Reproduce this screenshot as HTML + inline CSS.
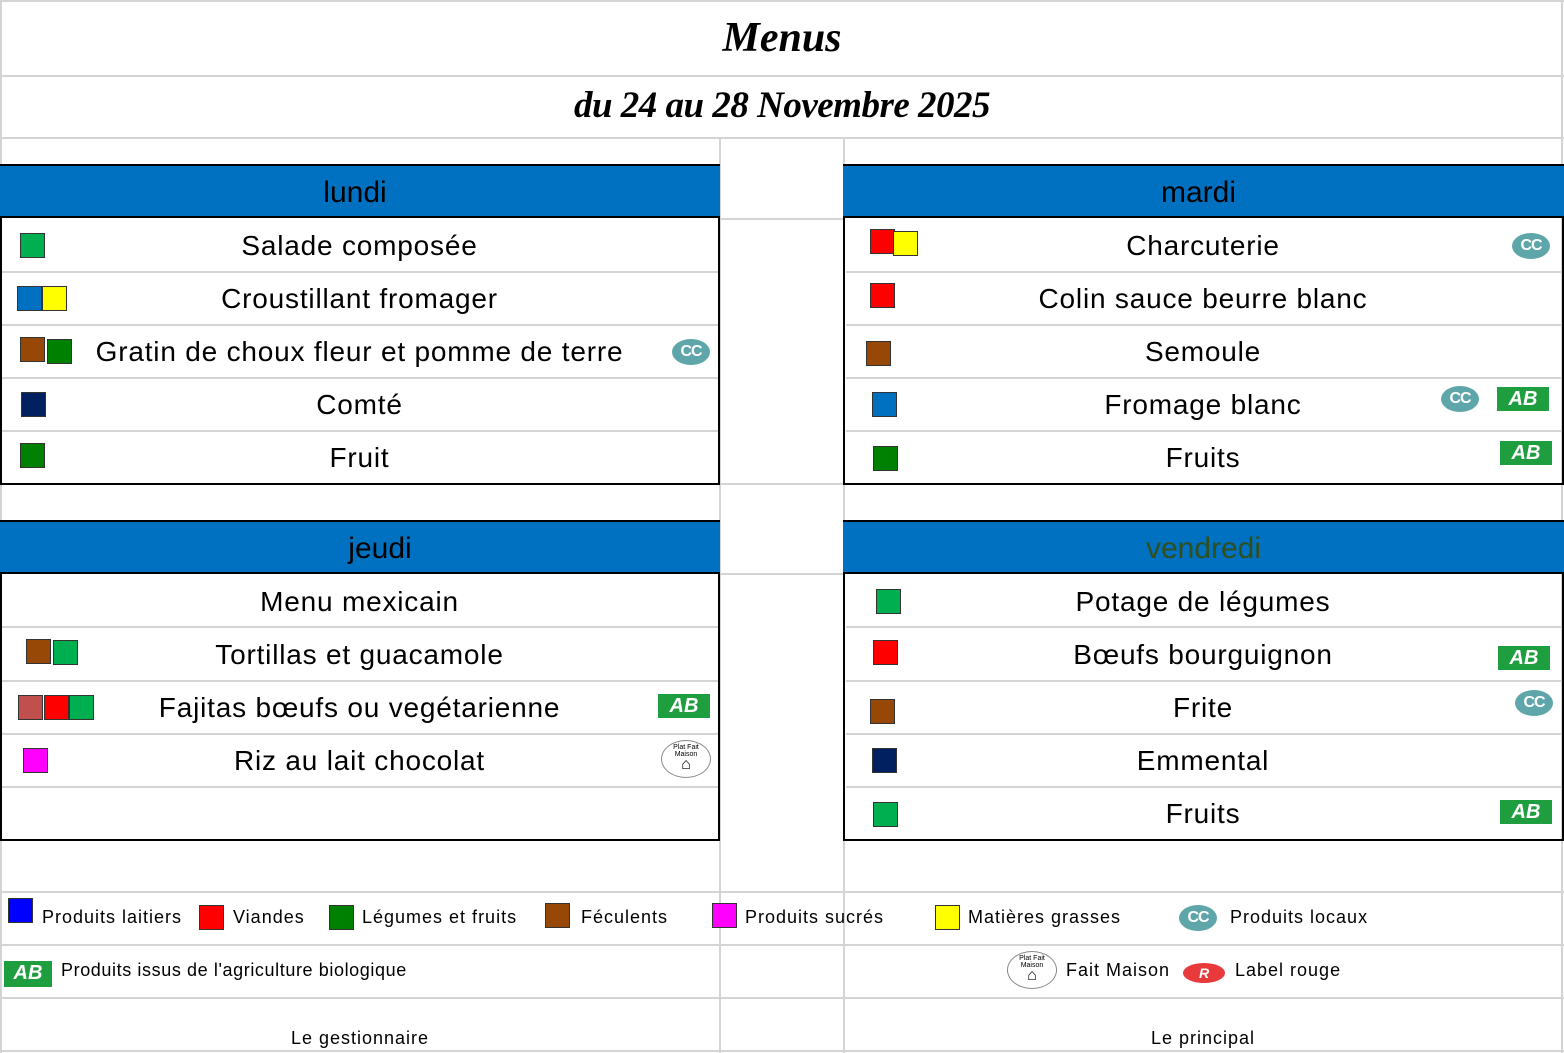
<!DOCTYPE html>
<html><head><meta charset="utf-8"><style>
*{margin:0;padding:0;box-sizing:border-box}
body{width:1564px;height:1053px;background:#fff;position:relative;overflow:hidden;font-family:"Liberation Sans",Arial,sans-serif;color:#000}
.a{position:absolute}
.h{position:absolute;height:2px;background:#d4d4d4}
.v{position:absolute;width:2px;background:#d4d4d4}
.t{position:absolute;height:53px;line-height:53px;text-align:center;font-size:28px;letter-spacing:0.8px;white-space:nowrap}
.hd{position:absolute;height:54px;background:#0070C0;line-height:54px;text-align:center;font-size:30px;border-top:2px solid #000;border-bottom:2px solid #000}
.box{position:absolute;border:2px solid #000}
.s{position:absolute;width:25px;height:25px;border:1.5px solid #333}
.cc{position:absolute;width:38px;height:26px;border-radius:50%;background:#5fa6aa;color:#fff;font-weight:bold;font-size:16px;text-align:center;line-height:26px;letter-spacing:-1px}
.ab{position:absolute;width:52px;height:24px;background:#1f9e3f;color:#fff;font-weight:bold;font-style:italic;font-size:20px;text-align:center;line-height:25px}
.lg{position:absolute;font-size:18px;line-height:22px;white-space:nowrap;letter-spacing:1px}
.fm{position:absolute;width:50px;height:38px;border-radius:50%;border:1px solid #888;background:#fff;font-size:7px;text-align:center}
.scr{font-family:"Liberation Serif",serif;font-style:italic;font-weight:bold;position:absolute;left:0;width:1564px;text-align:center}
</style></head><body>
<div class="h" style="left:0;top:0;width:1564px"></div>
<div class="h" style="left:0;top:75px;width:1564px"></div>
<div class="h" style="left:0;top:137px;width:1564px"></div>
<div class="h" style="left:0;top:1050px;width:1564px"></div>
<div class="v" style="left:0;top:0;height:1053px"></div>
<div class="v" style="left:1561px;top:0;height:1053px"></div>
<div class="v" style="left:719px;top:137px;height:916px"></div>
<div class="v" style="left:843px;top:137px;height:916px"></div>
<div class="h" style="left:720px;top:218px;width:124px"></div>
<div class="h" style="left:720px;top:483px;width:124px"></div>
<div class="h" style="left:720px;top:573px;width:124px"></div>
<div class="h" style="left:0;top:891px;width:1564px"></div>
<div class="h" style="left:0;top:944px;width:1564px"></div>
<div class="h" style="left:0;top:997px;width:1564px"></div>
<div class="h" style="left:2px;top:271px;width:716px"></div><div class="h" style="left:2px;top:324px;width:716px"></div><div class="h" style="left:2px;top:377px;width:716px"></div><div class="h" style="left:2px;top:430px;width:716px"></div>
<div class="h" style="left:846px;top:271px;width:716px"></div><div class="h" style="left:846px;top:324px;width:716px"></div><div class="h" style="left:846px;top:377px;width:716px"></div><div class="h" style="left:846px;top:430px;width:716px"></div>
<div class="h" style="left:2px;top:626px;width:716px"></div><div class="h" style="left:2px;top:680px;width:716px"></div><div class="h" style="left:2px;top:733px;width:716px"></div><div class="h" style="left:2px;top:786px;width:716px"></div>
<div class="h" style="left:846px;top:626px;width:716px"></div><div class="h" style="left:846px;top:680px;width:716px"></div><div class="h" style="left:846px;top:733px;width:716px"></div><div class="h" style="left:846px;top:786px;width:716px"></div>

<div class="scr" style="top:14px;font-size:42px">Menus</div>
<div class="scr" style="top:84px;font-size:37px;letter-spacing:-0.5px">du 24 au 28 Novembre 2025</div>

<div class="box" style="left:0;top:164px;width:720px;height:321px"></div>
<div class="box" style="left:843px;top:164px;width:721px;height:321px"></div>
<div class="box" style="left:0;top:520px;width:720px;height:321px"></div>
<div class="box" style="left:843px;top:520px;width:721px;height:321px"></div>
<div class="hd" style="left:0;top:164px;width:720px;padding-right:10px">lundi</div>
<div class="hd" style="left:843px;top:164px;width:721px;padding-right:10px">mardi</div>
<div class="hd" style="left:0;top:520px;width:720px;padding-left:40px">jeudi</div>
<div class="hd" style="left:843px;top:520px;width:721px;color:#2f4f1f">vendredi</div>

<div class="t" style="left:0;width:719px;top:219px">Salade composée</div>
<div class="t" style="left:0;width:719px;top:272px">Croustillant fromager</div>
<div class="t" style="left:0;width:719px;top:325px">Gratin de choux fleur et pomme de terre</div>
<div class="t" style="left:0;width:719px;top:378px">Comté</div>
<div class="t" style="left:0;width:719px;top:431px">Fruit</div>
<div class="s" style="left:20px;top:233px;background:#00B050"></div>
<div class="s" style="left:17px;top:286px;background:#0070C0"></div><div class="s" style="left:42px;top:286px;background:#FFFF00"></div>
<div class="s" style="left:20px;top:337px;background:#974706"></div><div class="s" style="left:47px;top:339px;background:#008000"></div>
<div class="s" style="left:21px;top:392px;background:#002060"></div>
<div class="s" style="left:20px;top:443px;background:#008000"></div>
<div class="cc" style="left:672px;top:339px">CC</div>

<div class="t" style="left:844px;width:718px;top:219px">Charcuterie</div>
<div class="t" style="left:844px;width:718px;top:272px">Colin sauce beurre blanc</div>
<div class="t" style="left:844px;width:718px;top:325px">Semoule</div>
<div class="t" style="left:844px;width:718px;top:378px">Fromage blanc</div>
<div class="t" style="left:844px;width:718px;top:431px">Fruits</div>
<div class="s" style="left:870px;top:229px;background:#FF0000"></div><div class="s" style="left:893px;top:231px;background:#FFFF00"></div>
<div class="s" style="left:870px;top:283px;background:#FF0000"></div>
<div class="s" style="left:866px;top:341px;background:#974706"></div>
<div class="s" style="left:872px;top:392px;background:#0070C0"></div>
<div class="s" style="left:873px;top:446px;background:#008000"></div>
<div class="cc" style="left:1512px;top:233px">CC</div>
<div class="cc" style="left:1441px;top:386px">CC</div>
<div class="ab" style="left:1497px;top:387px">AB</div>
<div class="ab" style="left:1500px;top:441px">AB</div>

<div class="t" style="left:0;width:719px;top:575px">Menu mexicain</div>
<div class="t" style="left:0;width:719px;top:628px">Tortillas et guacamole</div>
<div class="t" style="left:0;width:719px;top:681px">Fajitas bœufs ou vegétarienne</div>
<div class="t" style="left:0;width:719px;top:734px">Riz au lait chocolat</div>
<div class="s" style="left:26px;top:639px;background:#974706"></div><div class="s" style="left:53px;top:640px;background:#00B050"></div>
<div class="s" style="left:18px;top:695px;background:#C0504D"></div><div class="s" style="left:44px;top:695px;background:#FF0000"></div><div class="s" style="left:69px;top:695px;background:#00B050"></div>
<div class="s" style="left:23px;top:748px;background:#FF00FF"></div>
<div class="ab" style="left:658px;top:694px">AB</div>
<div class="fm" style="left:661px;top:740px"><div style="margin-top:3px">Plat Fait Maison</div><div style="font-size:16px;line-height:14px">⌂</div></div>

<div class="t" style="left:844px;width:718px;top:575px">Potage de légumes</div>
<div class="t" style="left:844px;width:718px;top:628px">Bœufs bourguignon</div>
<div class="t" style="left:844px;width:718px;top:681px">Frite</div>
<div class="t" style="left:844px;width:718px;top:734px">Emmental</div>
<div class="t" style="left:844px;width:718px;top:787px">Fruits</div>
<div class="s" style="left:876px;top:589px;background:#00B050"></div>
<div class="s" style="left:873px;top:640px;background:#FF0000"></div>
<div class="s" style="left:870px;top:699px;background:#974706"></div>
<div class="s" style="left:872px;top:748px;background:#002060"></div>
<div class="s" style="left:873px;top:802px;background:#00B050"></div>
<div class="ab" style="left:1498px;top:646px">AB</div>
<div class="cc" style="left:1515px;top:690px">CC</div>
<div class="ab" style="left:1500px;top:800px">AB</div>

<div class="s" style="left:8px;top:898px;background:#0000FF"></div><div class="lg" style="left:42px;top:906px">Produits laitiers</div>
<div class="s" style="left:199px;top:905px;background:#FF0000"></div><div class="lg" style="left:233px;top:906px">Viandes</div>
<div class="s" style="left:329px;top:905px;background:#008000"></div><div class="lg" style="left:362px;top:906px">Légumes et fruits</div>
<div class="s" style="left:545px;top:903px;background:#974706"></div><div class="lg" style="left:581px;top:906px">Féculents</div>
<div class="s" style="left:712px;top:903px;background:#FF00FF"></div><div class="lg" style="left:745px;top:906px">Produits sucrés</div>
<div class="s" style="left:935px;top:905px;background:#FFFF00"></div><div class="lg" style="left:968px;top:906px">Matières grasses</div>
<div class="cc" style="left:1179px;top:905px">CC</div><div class="lg" style="left:1230px;top:906px">Produits locaux</div>
<div class="ab" style="left:4px;top:961px;width:48px;height:26px">AB</div><div class="lg" style="left:61px;top:959px;letter-spacing:0.6px">Produits issus de l'agriculture biologique</div>
<div class="fm" style="left:1007px;top:951px"><div style="margin-top:3px">Plat Fait Maison</div><div style="font-size:16px;line-height:14px">⌂</div></div>
<div class="lg" style="left:1066px;top:959px">Fait Maison</div>
<div class="a" style="left:1183px;top:963px;width:42px;height:20px;border-radius:50%;background:#e83a3a;color:#fff;font-size:14px;font-weight:bold;font-style:italic;text-align:center;line-height:20px">R</div>
<div class="lg" style="left:1235px;top:959px">Label rouge</div>
<div class="lg" style="left:0;width:720px;text-align:center;top:1027px">Le gestionnaire</div>
<div class="lg" style="left:844px;width:718px;text-align:center;top:1027px">Le principal</div>
</body></html>
